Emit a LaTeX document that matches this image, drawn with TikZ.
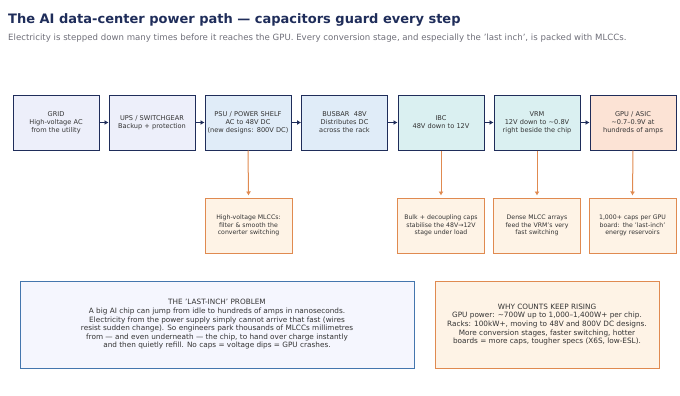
\documentclass[tikz,border=0pt]{standalone}
\usepackage{xcolor}
\usepackage{fontspec}
\setmainfont{DejaVu Sans}
\usepackage{tikz}
\usetikzlibrary{arrows.meta, positioning, calc}
\definecolor{navy}{HTML}{1F2D5A}
\definecolor{capline}{HTML}{E08A50}
\definecolor{capfill}{HTML}{FEF3E6}
\definecolor{gridfill}{HTML}{EDEFFA}
\definecolor{dcfill}{HTML}{E0ECF8}
\definecolor{ibcfill}{HTML}{DAF0F1}
\definecolor{gpufill}{HTML}{FCE3D5}
\definecolor{probline}{HTML}{4476AE}
\definecolor{probfill}{HTML}{F5F6FE}
\definecolor{subgray}{HTML}{6E6E78}
\definecolor{bodytext}{HTML}{333333}

\begin{document}
\begin{tikzpicture}[x=1pt, y=-1pt,
  stage/.style={rectangle, draw=navy, line width=1pt, text width=84pt,
    align=center, minimum width=86pt, minimum height=55pt, inner sep=1pt,
    font=\fontsize{6.6}{8}\selectfont, text=bodytext},
  capbox/.style={rectangle, draw=capline, line width=1pt, fill=capfill,
    text width=84pt, align=center, minimum width=87pt, minimum height=55pt,
    inner sep=1pt, font=\fontsize{6.2}{7.6}\selectfont, text=bodytext},
  note/.style={rectangle, line width=1pt, align=center, inner sep=2pt,
    font=\fontsize{7.3}{8.6}\selectfont, text=bodytext},
  flow/.style={-{Latex[length=4pt, width=5pt]}, line width=1pt, color=navy},
  feed/.style={-{Latex[length=4pt, width=5pt]}, line width=1pt, color=capline}
]
  \useasboundingbox (0,0) rectangle (680,396);

  % Heading
  \node[anchor=base west, inner sep=0pt, text=navy, font=\fontsize{13}{16}\selectfont\bfseries]
    (title) at (8,24) {The AI data-center power path — capacitors guard every step};
  \node[anchor=base west, inner sep=0pt, text=subgray, font=\fontsize{8.6}{10}\selectfont]
    (subtitle) at (8,41) {Electricity is stepped down many times before it reaches the GPU. Every conversion stage, and especially the 'last inch', is packed with MLCCs.};

  % Nodes
  \node[stage, fill=gridfill] (grid)   at (56,122.5)  {GRID\\High-voltage AC\\from the utility};
  \node[stage, fill=gridfill] (ups)    at (152,122.5) {UPS / SWITCHGEAR\\Backup + protection};
  \node[stage, fill=dcfill]   (psu)    at (248,122.5) {PSU / POWER SHELF\\AC to 48V DC\\(new designs: 800V DC)};
  \node[stage, fill=dcfill]   (busbar) at (344.5,122.5) {BUSBAR \ 48V\\Distributes DC\\across the rack};
  \node[stage, fill=ibcfill]  (ibc)    at (441,122.5) {IBC\\48V down to 12V};
  \node[stage, fill=ibcfill]  (vrm)    at (537,122.5) {VRM\\12V down to \textasciitilde0.8V\\right beside the chip};
  \node[stage, fill=gpufill]  (gpu)    at (633,122.5) {GPU / ASIC\\\textasciitilde0.7–0.9V at\\hundreds of amps};

  \node[capbox] (psucap) at (248.5,225.5) {High-voltage MLCCs:\\filter \& smooth the\\converter switching};
  \node[capbox] (ibccap) at (441,225.5) {Bulk + decoupling caps\\stabilise the 48V→12V\\stage under load};
  \node[capbox] (vrmcap) at (537,225.5) {Dense MLCC arrays\\feed the VRM's very\\fast switching};
  \node[capbox] (gpucap) at (632.5,225.5) {1,000+ caps per GPU\\board: the 'last-inch'\\energy reservoirs};

  \node[note, draw=probline, fill=probfill, minimum width=394pt, minimum height=87pt]
    (lastinch) at (217,324.5) {THE 'LAST-INCH' PROBLEM\\A big AI chip can jump from idle to hundreds of amps in nanoseconds.\\Electricity from the power supply simply cannot arrive that fast (wires\\resist sudden change). So engineers park thousands of MLCCs millimetres\\from — and even underneath — the chip, to hand over charge instantly\\and then quietly refill. No caps = voltage dips = GPU crashes.};
  \node[note, draw=capline, fill=capfill, minimum width=224pt, minimum height=87pt]
    (rising) at (547,324.5) {WHY COUNTS KEEP RISING\\GPU power: \textasciitilde700W up to 1,000–1,400W+ per chip.\\Racks: 100kW+, moving to 48V and 800V DC designs.\\More conversion stages, faster switching, hotter\\boards = more caps, tougher specs (X6S, low-ESL).};

  % Power flow
  \draw[flow] (grid)   -- (ups);
  \draw[flow] (ups)    -- (psu);
  \draw[flow] (psu)    -- (busbar);
  \draw[flow] (busbar) -- (ibc);
  \draw[flow] (ibc)    -- (vrm);
  \draw[flow] (vrm)    -- (gpu);

  % Capacitor feeds
  \draw[feed] (psu.south) -- ([yshift=2pt]psucap.north);
  \draw[feed] (ibc.south) -- ([yshift=2pt]ibccap.north);
  \draw[feed] (vrm.south) -- ([yshift=2pt]vrmcap.north);
  \draw[feed] (gpu.south) -- ([yshift=2pt]gpucap.north);
\end{tikzpicture}
\end{document}
